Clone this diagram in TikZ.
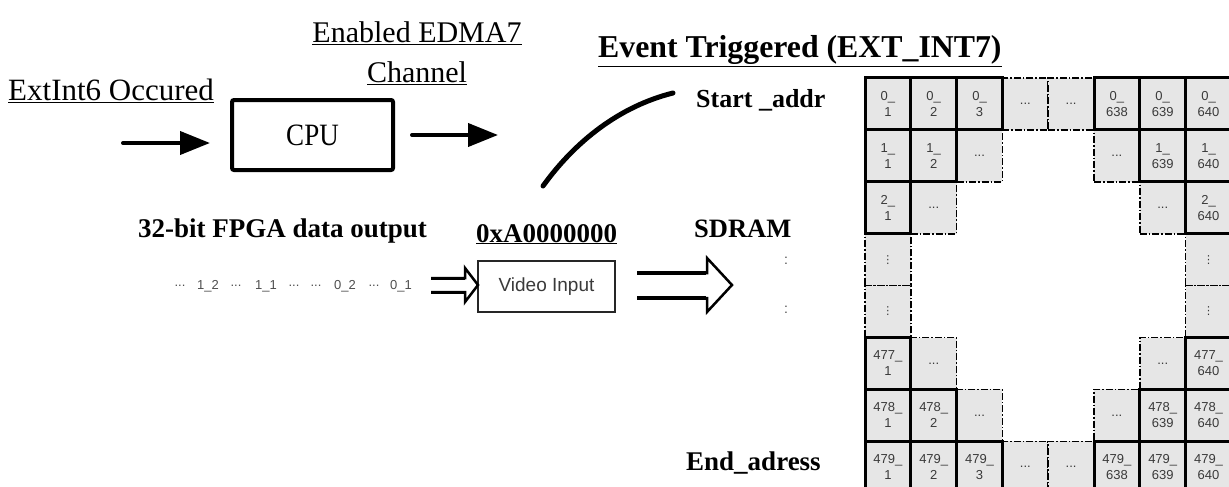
\documentclass[tikz,border=0pt]{standalone}
\usepackage{fontspec}
\setmainfont{Liberation Serif}
\newfontfamily\arialf{Liberation Sans}
\newfontfamily\dejavuf{DejaVu Sans}
\usetikzlibrary{arrows.meta,calc}
\definecolor{cellgray}{HTML}{E6E6E6}
\definecolor{txtgray}{HTML}{3A3A3A}
\newcommand\celldots{...}
\newcommand\cellvdots{{\dejavuf\fontsize{11}{12}\selectfont ⋮}}
\begin{document}
\begin{tikzpicture}[x=1pt,y=-1pt,
  rtext/.style={font=\fontsize{31}{35}\selectfont, inner sep=0pt, anchor=base west},
  btext/.style={font=\bfseries\fontsize{27}{31}\selectfont, inner sep=0pt, anchor=base west},
  cellbase/.style={rectangle, minimum width=45.8pt, minimum height=51.9pt, inner sep=0pt,
    fill=cellgray, align=center, text=txtgray, font=\arialf\fontsize{13}{16}\selectfont},
  cellL/.style={cellbase, draw=black, line width=3pt},
  cellE/.style={cellbase, draw=black, line width=1.6pt, dash pattern=on 7pt off 2pt on 1.5pt off 2pt},
  seqtext/.style={font=\arialf\fontsize{13}{15}\selectfont, text=txtgray!90, inner sep=0pt},
  fatarr/.style={line width=4pt, line cap=round, -{Triangle[length=30pt,width=23pt]}},
  hollow/.style={line width=2.5pt, line join=miter},
  hollowbar/.style={line width=3.5pt},
]
\useasboundingbox (0,0) rectangle (1229,487);
\clip (0,0) rectangle (1229,487);

% ---- top-left: interrupt / CPU ----
\node[rtext] (ext) at (8,100) {\underline{ExtInt6 Occured}};
\node[rtext, anchor=base, font=\fontsize{30}{34}\selectfont] (en1) at (417,43) {\underline{Enabled EDMA7}};
\node[rtext, anchor=base, font=\fontsize{30}{34}\selectfont] (en2) at (417,83) {\underline{Channel}};
\node[draw, line width=4pt, rounded corners=2pt, minimum width=161pt, minimum height=70pt,
      inner sep=0pt, font=\fontsize{27}{31}\selectfont] (cpu) at (312.5,135) {\scalebox{1}[1.15]{CPU}};
\coordinate (inA) at (123,143);
\coordinate (inB) at (210,143);
\coordinate (outA) at (412,135);
\coordinate (outB) at (498,135);
\draw[fatarr] (inA) -- (inB);
\draw[fatarr] (outA) -- (outB);

% ---- titles ----
\node[btext, font=\bfseries\fontsize{31.8}{35}\selectfont] (title) at (598,58) {\underline{Event Triggered (EXT\_INT7)}};
\node[btext, font=\bfseries\fontsize{26}{30}\selectfont] (start) at (696,107) {Start \_addr};
\coordinate (cs) at (543,186);
\coordinate (ce) at (673,93);
\draw[line width=5pt, line cap=round] (cs) .. controls (575,141.5) and (619.6,106.3) .. (ce);

\node[btext] (fpga) at (138,237) {32-bit FPGA data output};
\node[btext] (addr) at (476,242) {\underline{0xA0000000}};
\node[btext, font=\bfseries\fontsize{26.5}{30}\selectfont] (sdram) at (694,237) {SDRAM};
\node[btext] (endad) at (686,470) {End\_adress};
\node[seqtext, font=\arialf\fontsize{14}{15}\selectfont] (vd1) at (786,261) {:};
\node[seqtext, font=\arialf\fontsize{14}{15}\selectfont] (vd2) at (786,310) {:};

% ---- data sequence ----
\foreach \x/\t [count=\i] in {180/\celldots, 208/1\_2, 236/\celldots, 266/1\_1, 294/\celldots,
   316/\celldots, 345/0\_2, 374/\celldots, 401/0\_1}
  \node[seqtext] (seq\i) at (\x,286) {\t};

% ---- video input ----
\node[draw=black!85, line width=2pt, minimum width=137pt, minimum height=51pt, inner sep=0pt,
      text=txtgray, font=\arialf\fontsize{19}{22}\selectfont] (vid) at (546.5,286.5) {Video Input};

% small hollow arrow
\draw[hollow] (431,278) -- (465,278) -- (465,268) -- (478,285) -- (465,302) -- (465,292) -- (431,292);
\draw[line width=3pt] (431,278) -- (465,278) (431,292) -- (465,292);
% big hollow arrow
\draw[hollow] (637,273) -- (707,273) -- (707,258) -- (732,285) -- (707,312) -- (707,298) -- (637,298);
\draw[hollowbar] (637,273) -- (706,273) (637,298) -- (706,298);

% ---- SDRAM grid ----
\foreach \c/\r/\t in {3/0/\celldots, 4/0/\celldots, 2/1/\celldots, 5/1/\celldots,
   1/2/\celldots, 6/2/\celldots, 0/3/\cellvdots, 7/3/\cellvdots, 0/4/\cellvdots, 7/4/\cellvdots,
   1/5/\celldots, 6/5/\celldots, 2/6/\celldots, 5/6/\celldots, 3/7/\celldots, 4/7/\celldots}
  \node[cellE] (cell-\c-\r) at ({865+(\c+0.5)*45.8},{78+(\r+0.5)*51.9}) {\t};

\foreach \c/\r/\a/\b in {0/0/0/1, 1/0/0/2, 2/0/0/3, 5/0/0/638, 6/0/0/639, 7/0/0/640,
   0/1/1/1, 1/1/1/2, 6/1/1/639, 7/1/1/640,
   0/2/2/1, 7/2/2/640,
   0/5/477/1, 7/5/477/640,
   0/6/478/1, 1/6/478/2, 6/6/478/639, 7/6/478/640,
   0/7/479/1, 1/7/479/2, 2/7/479/3, 5/7/479/638, 6/7/479/639, 7/7/479/640}
  \node[cellL] (cell-\c-\r) at ({865+(\c+0.5)*45.8},{78+(\r+0.5)*51.9}) {\a\_\\\b};
\end{tikzpicture}
\end{document}
